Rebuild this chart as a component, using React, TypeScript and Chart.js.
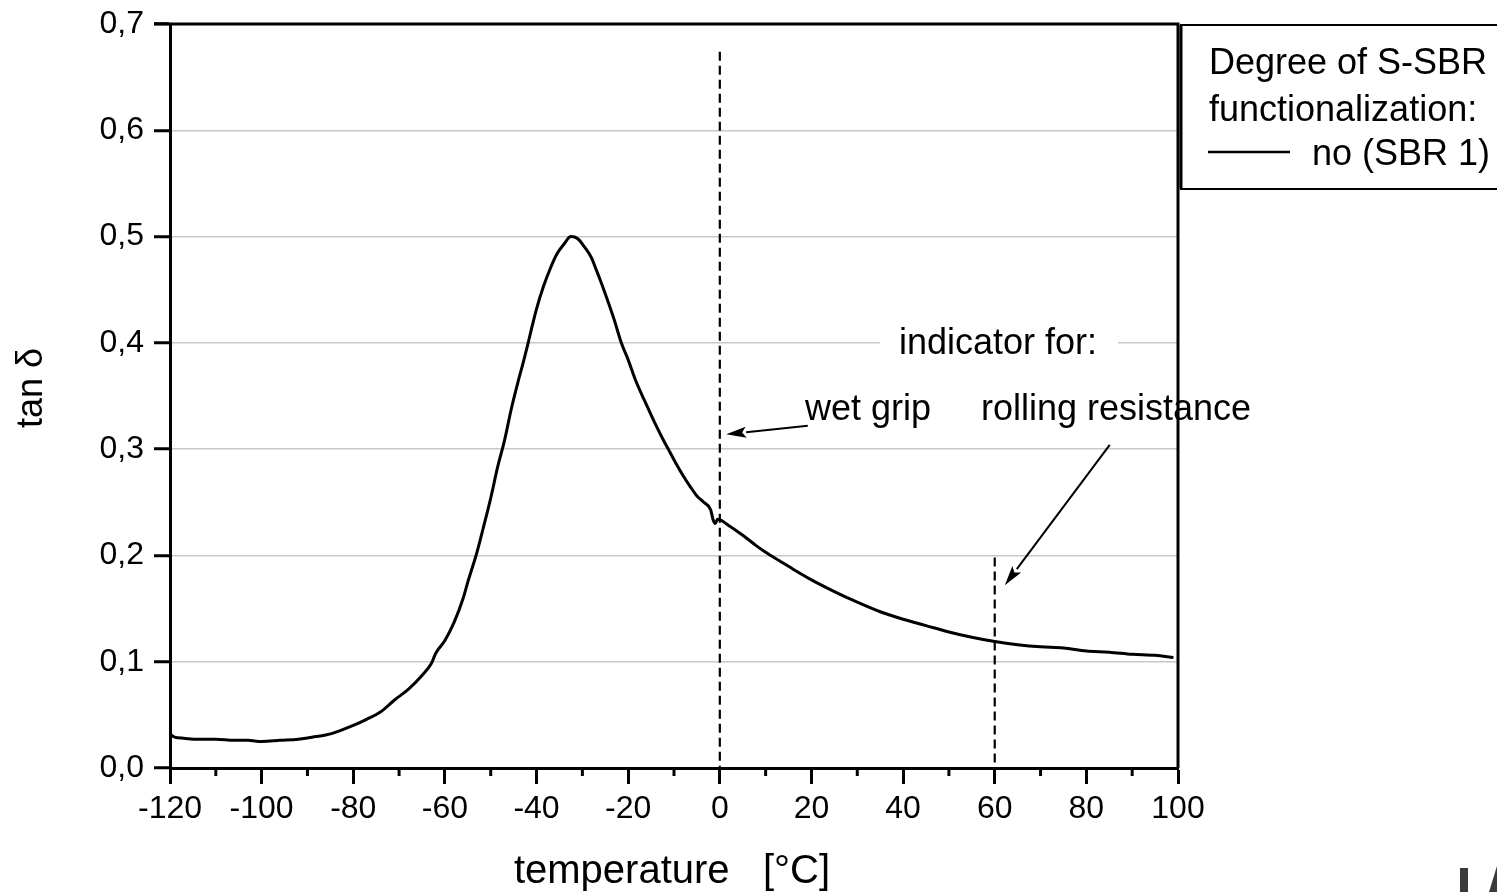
import React, { useEffect, useRef } from 'react';
import { Chart, registerables } from 'chart.js';

Chart.register(...registerables);

// ---- data ----
const TEMPERATURE = [
  -120, -119, -117, -114, -110, -106, -103, -100, -96, -92,
  -89, -86, -83, -80, -77, -74, -71, -68, -65, -63,
  -62, -60, -58, -56, -55, -53, -51.5, -50, -48.5, -47,
  -45.5, -44, -43, -42, -41, -40, -38.5, -37, -35.5, -34,
  -32.5, -31, -29.5, -28, -27, -26, -24.5, -23, -21.5, -20,
  -18.5, -17, -15.5, -14, -12.5, -11, -9.5, -8, -6.5, -5,
  -3.5, -2, -1.5, -1, -0.5, 2, 5, 8, 10, 13,
  16, 20, 25, 30, 35, 40, 45, 50, 55, 60,
  65, 70, 75, 80, 85, 90, 95, 99,
];
const TAN_DELTA = [
  0.032, 0.029, 0.028, 0.027, 0.027, 0.026, 0.026, 0.025, 0.026, 0.027,
  0.029, 0.031, 0.035, 0.040, 0.046, 0.053, 0.064, 0.074, 0.087, 0.098,
  0.108, 0.120, 0.137, 0.160, 0.175, 0.203, 0.228, 0.254, 0.283, 0.308,
  0.338, 0.364, 0.380, 0.397, 0.415, 0.432, 0.453, 0.470, 0.484, 0.493,
  0.500, 0.498, 0.490, 0.480, 0.469, 0.458, 0.440, 0.421, 0.400, 0.384,
  0.366, 0.351, 0.337, 0.323, 0.310, 0.298, 0.286, 0.275, 0.265, 0.256,
  0.250, 0.243, 0.234, 0.230, 0.234, 0.228, 0.219, 0.209, 0.203, 0.195,
  0.187, 0.177, 0.166, 0.156, 0.147, 0.140, 0.134, 0.128, 0.123, 0.119,
  0.116, 0.114, 0.113, 0.110, 0.109, 0.107, 0.106, 0.104,
];

const X_MIN = -120;
const X_MAX = 100;
const X_STEP = 20;
const X_MINOR_TICKS = [-110, -90, -70, -50, -30, -10, 10, 30, 50, 70, 90];
const Y_MIN = 0;
const Y_MAX = 0.7;
const Y_STEP = 0.1;

// indicator lines: temperature, top value
const WET_GRIP_LINE = [0, 0.674];
const ROLLING_LINE = [60, 0.198];
// arrows: [fromT, fromV, toT, toV]
const WET_GRIP_ARROW = [19.2, 0.322, 1.4, 0.314];
const ROLLING_ARROW = [85.1, 0.304, 62.2, 0.172];

const X_TITLE = 'temperature   [°C]';
const Y_TITLE = 'tan δ';
const INDICATOR_TITLE = 'indicator for:';
const WET_GRIP_LABEL = 'wet grip';
const ROLLING_LABEL = 'rolling resistance';
const LEGEND_HEADER = ['Degree of S-SBR', 'functionalization:'];
const SERIES_LABEL = 'no (SBR 1)';

const FONT = '"Liberation Sans", Arial, Helvetica, sans-serif';

function drawArrow(ctx: CanvasRenderingContext2D, x1: number, y1: number, x2: number, y2: number) {
  const ang = Math.atan2(y2 - y1, x2 - x1);
  const len = 20;
  const half = 5.5;
  const bx = x2 - Math.cos(ang) * len;
  const by = y2 - Math.sin(ang) * len;
  ctx.beginPath();
  ctx.moveTo(x1, y1);
  ctx.lineTo(bx, by);
  ctx.stroke();
  ctx.beginPath();
  ctx.moveTo(x2, y2);
  ctx.lineTo(bx - Math.sin(ang) * half, by + Math.cos(ang) * half);
  ctx.lineTo(bx + Math.cos(ang) * 4, by + Math.sin(ang) * 4);
  ctx.lineTo(bx + Math.sin(ang) * half, by - Math.cos(ang) * half);
  ctx.closePath();
  ctx.fill();
}

const decorPlugin = {
  id: 'decor',
  afterDraw(chart: any) {
    const ctx: CanvasRenderingContext2D = chart.ctx;
    const xs = chart.scales.x;
    const ys = chart.scales.y;
    const area = chart.chartArea;
    ctx.save();
    ctx.strokeStyle = '#000';
    ctx.fillStyle = '#000';

    // frame top & right
    ctx.lineWidth = 3;
    ctx.beginPath();
    ctx.moveTo(area.left - 16, area.top);
    ctx.lineTo(area.right, area.top);
    ctx.lineTo(area.right, area.bottom);
    ctx.stroke();

    // minor x ticks
    ctx.lineWidth = 3;
    X_MINOR_TICKS.forEach((t) => {
      const px = xs.getPixelForValue(t);
      ctx.beginPath();
      ctx.moveTo(px, area.bottom);
      ctx.lineTo(px, area.bottom + 8);
      ctx.stroke();
    });

    // indicator header with white background
    const hy = ys.getPixelForValue(0.4);
    ctx.fillStyle = '#fff';
    ctx.fillRect(880, hy - 4, 238, 8);
    ctx.fillStyle = '#000';
    ctx.font = `36px ${FONT}`;
    ctx.textAlign = 'left';
    ctx.textBaseline = 'alphabetic';
    ctx.fillText(INDICATOR_TITLE, 899, hy + 11);
    ctx.fillText(WET_GRIP_LABEL, 805, 420);
    ctx.fillText(ROLLING_LABEL, 981, 420);

    // arrows
    ctx.lineWidth = 2;
    [WET_GRIP_ARROW, ROLLING_ARROW].forEach((a) => {
      drawArrow(
        ctx,
        xs.getPixelForValue(a[0]), ys.getPixelForValue(a[1]),
        xs.getPixelForValue(a[2]), ys.getPixelForValue(a[3])
      );
    });

    // axis titles
    ctx.font = `40px ${FONT}`;
    ctx.textAlign = 'center';
    ctx.fillText(X_TITLE, 672, 883);
    ctx.save();
    ctx.translate(42, 388);
    ctx.rotate(-Math.PI / 2);
    ctx.font = `36px ${FONT}`;
    ctx.textAlign = 'center';
    ctx.fillText(Y_TITLE, 0, 0);
    ctx.restore();

    // legend box
    ctx.lineWidth = 2;
    ctx.beginPath();
    ctx.moveTo(1500, 25);
    ctx.lineTo(1181, 25);
    ctx.lineTo(1181, 189);
    ctx.lineTo(1500, 189);
    ctx.stroke();
    ctx.lineWidth = 3;
    ctx.beginPath();
    ctx.moveTo(1181, 25);
    ctx.lineTo(1181, 189);
    ctx.stroke();
    ctx.font = `36px ${FONT}`;
    ctx.textAlign = 'left';
    ctx.fillText(LEGEND_HEADER[0], 1209, 74);
    ctx.fillText(LEGEND_HEADER[1], 1209, 121);
    ctx.lineWidth = 2.5;
    ctx.beginPath();
    ctx.moveTo(1208, 152);
    ctx.lineTo(1290, 152);
    ctx.stroke();
    ctx.fillText(SERIES_LABEL, 1312, 165);

    // corner logo fragment
    ctx.fillStyle = '#3a3a3a';
    ctx.fillRect(1460, 868, 8, 24);
    ctx.beginPath();
    ctx.moveTo(1489, 892);
    ctx.lineTo(1497, 866);
    ctx.lineTo(1497, 892);
    ctx.closePath();
    ctx.fill();

    ctx.restore();
  },
};

export default function App() {
  const ref = useRef<HTMLCanvasElement>(null);

  useEffect(() => {
    if (!ref.current) return;
    const points = TEMPERATURE.map((t, i) => ({ x: t, y: TAN_DELTA[i] }));
    const chart = new Chart(ref.current, {
      type: 'line',
      data: {
        datasets: [
          {
            label: SERIES_LABEL,
            data: points,
            borderColor: '#000',
            borderWidth: 3,
            pointRadius: 0,
            cubicInterpolationMode: 'monotone',
            fill: false,
          },
          {
            label: 'wet grip',
            data: [
              { x: WET_GRIP_LINE[0], y: WET_GRIP_LINE[1] },
              { x: WET_GRIP_LINE[0], y: 0 },
            ],
            borderColor: '#000',
            borderWidth: 2.2,
            borderDash: [9, 5],
            pointRadius: 0,
            fill: false,
          },
          {
            label: 'rolling resistance',
            data: [
              { x: ROLLING_LINE[0], y: ROLLING_LINE[1] },
              { x: ROLLING_LINE[0], y: 0 },
            ],
            borderColor: '#000',
            borderWidth: 2.2,
            borderDash: [9, 5],
            pointRadius: 0,
            fill: false,
          },
        ],
      },
      options: {
        responsive: false,
        animation: false,
        devicePixelRatio: 1,
        layout: { padding: { left: 0, top: 24, right: 319, bottom: 0 } },
        plugins: {
          legend: { display: false },
          tooltip: { enabled: false },
          title: { display: false },
        },
        scales: {
          x: {
            type: 'linear',
            min: X_MIN,
            max: X_MAX,
            afterFit: (s: any) => { s.height = 124; s.paddingLeft = 0; s.paddingRight = 0; },
            ticks: {
              stepSize: X_STEP,
              color: '#000',
              font: { family: FONT, size: 32 },
              padding: 6,
              maxRotation: 0,
              autoSkip: false,
              callback: (v: any) => String(v),
            },
            grid: {
              drawOnChartArea: false,
              drawTicks: true,
              tickLength: 16,
              tickWidth: 3,
              tickColor: '#000',
            },
            border: { display: true, color: '#000', width: 3 },
          },
          y: {
            type: 'linear',
            min: Y_MIN,
            max: Y_MAX,
            afterFit: (s: any) => { s.width = 170; s.paddingTop = 0; s.paddingBottom = 0; },
            ticks: {
              stepSize: Y_STEP,
              color: '#000',
              font: { family: FONT, size: 32 },
              padding: 10,
              callback: (v: any) => Number(v).toFixed(1).replace('.', ','),
            },
            grid: {
              color: '#c8c8c8',
              lineWidth: 1.5,
              drawTicks: true,
              tickLength: 16,
              tickWidth: 3,
              tickColor: '#000',
            },
            border: { display: true, color: '#000', width: 3 },
          },
        },
      },
      plugins: [decorPlugin],
    } as any);
    return () => chart.destroy();
  }, []);

  return (
    <div style={{ position: 'fixed', left: 0, top: 0, width: 1497, height: 892, background: '#fff' }}>
      <canvas ref={ref} width={1497} height={892} style={{ display: 'block' }} />
    </div>
  );
}
